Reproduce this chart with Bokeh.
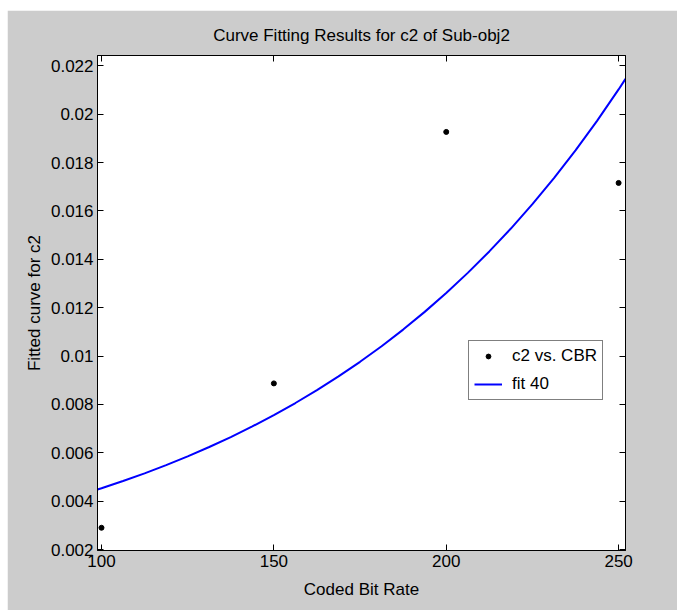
from bokeh.plotting import figure
from bokeh.models import Range1d, LinearAxis, FixedTicker, Legend, LegendItem, CustomJSTickFormatter
from bokeh.embed import file_html
from bokeh.resources import INLINE

# data points
cbr = [100, 150, 200, 250]
c2 = [0.0029, 0.00887, 0.01927, 0.01716]

# fitted curve
fit_x = [98.84, 100, 106.25, 112.5, 118.75, 125, 131.25, 137.5, 143.75, 150, 156.25, 162.5,
         168.75, 175, 181.25, 187.5, 193.75, 200, 206.25, 212.5, 218.75, 225, 231.25,
         237.5, 243.75, 250, 252.0]
fit_y = [0.00448, 0.004533, 0.004832, 0.005151, 0.005491, 0.005854, 0.006240, 0.006652,
         0.007091, 0.007560, 0.008059, 0.008591, 0.009158, 0.009763, 0.010408, 0.011095,
         0.011828, 0.012608, 0.013441, 0.014328, 0.015274, 0.016282, 0.017357, 0.018503,
         0.019725, 0.021027, 0.021462]

x_ticks = [100, 150, 200, 250]
y_ticks = [0.002, 0.004, 0.006, 0.008, 0.010, 0.012, 0.014, 0.016, 0.018, 0.020, 0.022]

FONT = "Liberation Sans"
FS = "17px"
GRAY = "#cccccc"

p = figure(width=670, height=600, output_backend="svg", toolbar_location=None,
           x_range=Range1d(98.84, 252.0), y_range=Range1d(0.00196, 0.02243),
           min_border_left=90, min_border_right=52, min_border_top=45, min_border_bottom=60,
           border_fill_color=GRAY, background_fill_color="white",
           styles={"margin-left": "7px", "margin-top": "10px"})

p.title.text = "Curve Fitting Results for c2 of Sub-obj2"
p.title.align = "center"
p.title.text_font = FONT
p.title.text_font_size = FS
p.title.text_font_style = "normal"
p.title.text_color = "black"
p.title.standoff = 22

p.outline_line_color = "black"
p.outline_line_width = 1
p.xgrid.visible = False
p.ygrid.visible = False

fmt_y = CustomJSTickFormatter(code="return tick.toFixed(3).replace(/0+$/, '');")

def style(ax, ticks, show_labels):
    ax.ticker = FixedTicker(ticks=ticks)
    ax.major_tick_in = 6
    ax.major_tick_out = 0
    ax.minor_tick_line_color = None
    ax.axis_line_color = "black"
    ax.major_tick_line_color = "black"
    ax.major_label_text_font = FONT
    if show_labels:
        ax.major_label_text_font_size = FS
        ax.major_label_text_color = "black"
        ax.major_label_standoff = 4
    else:
        ax.major_label_text_font_size = "1px"
        ax.major_label_text_color = None
        ax.major_label_text_alpha = 0
        ax.major_label_standoff = 0
    ax.axis_label_text_font = FONT
    ax.axis_label_text_font_size = FS
    ax.axis_label_text_font_style = "normal"
    ax.axis_label_text_color = "black"

style(p.xaxis[0], x_ticks, True)
style(p.yaxis[0], y_ticks, True)
p.yaxis[0].formatter = fmt_y
p.xaxis[0].axis_label = "Coded Bit Rate"
p.yaxis[0].axis_label = "Fitted curve for c2"
p.xaxis[0].axis_label_standoff = 10
p.yaxis[0].axis_label_standoff = 4

top_ax = LinearAxis()
style(top_ax, x_ticks, False)
p.add_layout(top_ax, "above")
right_ax = LinearAxis()
style(right_ax, y_ticks, False)
p.add_layout(right_ax, "right")

line_r = p.line(fit_x, fit_y, line_color="#0000ff", line_width=2)
pts_r = p.scatter(cbr, c2, marker="circle", size=5, fill_color="black", line_color="black")

legend = Legend(items=[LegendItem(label="c2 vs. CBR", renderers=[pts_r]),
                       LegendItem(label="fit 40", renderers=[line_r])],
                location=(371, 150), orientation="vertical",
                border_line_color="black", border_line_width=1,
                background_fill_color="white", background_fill_alpha=1,
                label_text_font=FONT, label_text_font_size=FS, label_text_color="black",
                glyph_width=28, glyph_height=12, label_height=20, label_standoff=10,
                padding=5, spacing=8, margin=0)
p.add_layout(legend, "center")

open("out.html", "w").write(file_html(p, INLINE))
